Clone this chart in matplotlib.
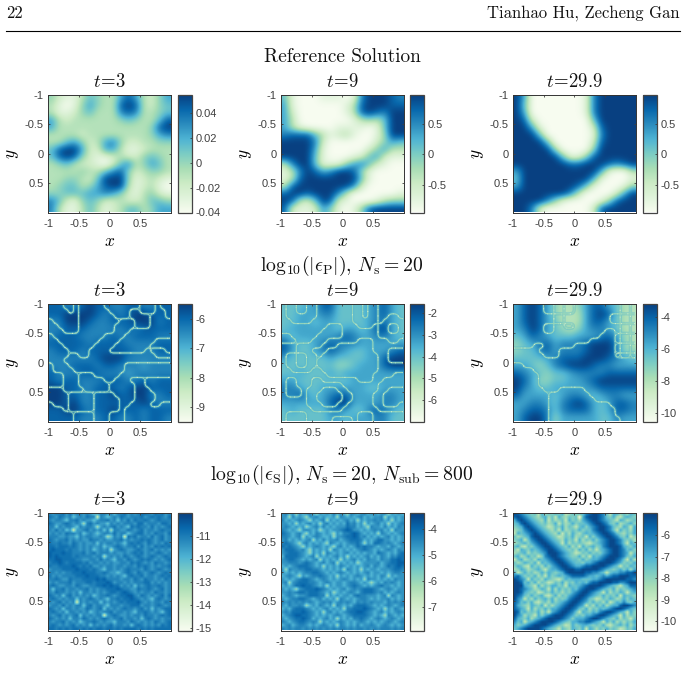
import numpy as np
import matplotlib
matplotlib.use('Agg')
import matplotlib.pyplot as plt

plt.rcParams['mathtext.fontset'] = 'cm'
plt.rcParams['font.family'] = ['Liberation Sans', 'DejaVu Sans']

W, H = 686, 673
TICK_COLOUR = '#404040'

###########################################################################
# Fields, one digit per grid cell: 0 = bottom of colour range, 9 = top
###########################################################################
time_labels = [r'$t\!=\!3$', r'$t\!=\!9$', r'$t\!=\!29.9$']
axis_ticks = [-1, -0.5, 0, 0.5]
axis_tick_labels = ['-1', '-0.5', '0', '0.5']

# solution u(x, y)
sol_t3 = ["4211354336863246", "3101464338983245", "3112453337873345", "6323333334543358",
          "6333333333333489", "3333233333333467", "3356423674223344", "5899622663112333",
          "5898421123224543", "3453221025734653", "3333433578423443", "3344325999412321",
          "3455346899312310", "4455566764213421", "7521454223223554", "7311353123553466"]
sol_t9 = ["5100011101799987", "6100000013899988", "6200000013898799", "6300000001343599",
          "6310000111101599", "7888531231001499", "9999720000002465", "9999610000024633",
          "9999510001256211", "3799511146752100", "1379867998410000", "1389999999510000",
          "3899999997200000", "8998999730000001", "9832598210001344", "8211264101489999"]
sol_t29 = ["9600000001799999", "9500000001799999", "9600000001799999", "9820000000599999",
           "9961000000289999", "9995000000179999", "9999500000289999", "9999940000499999",
           "9999995114899999", "9999999889998789", "6999999999961003", "5999999999610001",
           "6999999985100014", "9999999730000269", "9999741000014899", "9972000000289999"]

# pointwise error, log10 magnitude away from the sign changes
pts_t3 = ["8877898877887788", "8899998787899888", "7799987788899978", "7788877777878888",
          "7888777787788877", "8888878888777788", "7888788888877788", "7777778999777777",
          "7778887887776777", "8777888777677777", "8788777888778788", "9988778887899888",
          "9988778898899778", "9989778888889877", "8899878898887888", "8888777887787887"]
pts_t9 = ["5556688555567865", "5566677555567865", "5566566555567765", "5666666566568965",
          "6566666787667765", "8655678777666666", "8655678765566678", "6555556555566899",
          "5555555445666899", "5565556566666666", "6655555556666666", "7765566666655666",
          "7786567886666776", "6666668996666776", "5655557765578765", "5555556656667755"]
pts_t29 = ["6898643346886533", "6898643336898533", "6898653336886533", "6798654346776533",
           "5687655566678643", "4567867778999743", "4557867778999744", "5555678889998765",
           "6654578999877666", "8765455677778888", "9864455667899999", "9765566666788888",
           "8666656776567766", "6677657898656887", "6788757888656887", "6899746666655766"]

# regions of equal error sign; the borders between them are the zero crossings
sign_t3 = ["111221000001111111000122", "111121000000111122000112", "111111000000011122221112",
           "011111000000003332221111", "001111000000033332221111", "000111000000033311111111",
           "200000000003333111111111", "220000000033331111111333", "222000000333311111113333",
           "222200003333111111130003", "222233003333333333333000", "222333333333333333333333",
           "122233333333333000000000", "122223333333333000000000", "111222111333330000000000",
           "111222111113300022211111", "111222111111000002211111", "333222211111000002221111",
           "333300000222200002222111", "333300000222220002222111", "133300000222220022221122",
           "111300000222220222222222", "111113333222000222222222", "111113333222000222222222"]
sign_t9 = ["011001100000001101100000", "011001100000001101100000", "011111100000001101100110",
           "001111000000001111101111", "000000000111000111011001", "000000001111000000011001",
           "220000011111000000011111", "222000111000000222000110", "000111110002222222000000",
           "000111000222222222000333", "011001102222222222200333", "011001122222222222200333",
           "011001122222222222200000", "001111002222222222200000", "000000000222222222000011",
           "033000110000000222001111", "033000111111000000011111", "033301110001100000011000",
           "033301100000110000110000", "000001100000110000110000", "000001110001100000110001",
           "000000111111000000011111", "011110000000000111000000", "011110000011110111000000"]
sign_t29 = ["000000330033000000000330", "000000330033000000000330", "000000003300000000033003",
            "000000003300000000033003", "000000330033000000000330", "000000330000000000110330",
            "000000000000000001113003", "000000000000000111113003", "000011000000111111110330",
            "111110000111111111110330", "111111000111111111113003", "111111111111111111111111",
            "221111111111111111111111", "222211111111111111111111", "222221111111111111111111",
            "222221111111111111111111", "222221111111111111111111", "222222111333331111111111",
            "222222233333333111111111", "222222233333333311111111", "222222233333333333311111",
            "222222233333333333331111", "222222233333333333331111", "222222233333333333333111"]

# spectral error, fine speckle with the slower structure under it
sub_t3 = ["767786 867767 656776 757786 767887 687867", "876876 756768 773765 676876 777867 878768",
          "767765 778676 656778 675768 687787 678777", "876678 767647 867665 767677 768867 776887",
          "775767 765767 764676 786765 878776 867678", "768675 636678 676757 477668 767867 767877",
          "676768 776756 765677 686775 678867 687768", "777667 665767 766764 576738 786776 867867",
          "876778 676766 877676 677867 677878 767867", "877877 687676 675767 767657 878768 767687",
          "887888 787676 766756 678767 786867 687878", "898887 877676 756767 467876 678767 867676",
          "988898 877786 786777 676676 787867 678767", "989888 878777 767746 767687 678767 876787",
          "889988 887766 776867 657768 767878 767678", "788987 888878 677676 766776 878767 687767",
          "877888 898787 866767 767767 768787 676778", "677788 889888 787657 767678 777687 678767",
          "776767 788898 887787 665678 768767 876787", "867677 778889 888776 767657 877867 767878",
          "778766 877788 889897 777677 687687 767687", "676777 867778 878889 867767 677788 676767",
          "787667 768766 778898 988676 757678 778767", "757786 776778 676778 889877 668778 767867",
          "768776 767577 676767 887898 767677 687767", "876757 867676 756778 767889 976876 767868",
          "787676 775767 876765 778788 987676 578767", "767867 673767 677576 767878 889767 677687",
          "677686 767757 867765 777677 888677 678767", "876757 767668 767857 676787 767867 576788",
          "787675 776767 567677 867767 657787 676578", "767867 678576 767736 787667 677687 767878",
          "876767 577687 676787 677867 767578 767677", "767786 767567 787676 657776 876767 687678",
          "787676 786767 576767 867767 578767 676878", "887878 788787 878878 878788 887878 788888"]
sub_t9 = ["675646 567546 565756 547656 756656 746565", "664756 546675 655647 656567 565667 465656",
          "756567 654656 746565 675646 566767 564656", "665646 567564 675656 586756 465675 646567",
          "676565 645675 756566 687756 547665 756576", "765654 676564 565667 898665 656767 564766",
          "876567 546576 565465 778986 565647 656567", "776567 465676 556466 788986 756565 675656",
          "675656 567465 756675 678887 565688 665656", "787654 675656 547656 567786 465887 676567",
          "878765 465676 565467 565687 877656 657656", "688876 754656 564765 656567 876565 676576",
          "678887 654656 476565 675656 566587 656578", "588887 656746 565675 646565 675657 657688",
          "678876 565674 656564 656756 576657 668898", "667776 787656 756746 565645 666675 678899",
          "565678 887656 465657 656565 675765 687898", "647667 788776 565656 476564 656656 667887",
          "656565 677887 656567 656565 675665 656776", "567654 656778 765646 565676 565657 646566",
          "656567 887656 765656 765656 476656 565766", "674678 887765 676566 567765 654565 767656",
          "565688 988765 646566 567876 565678 665656", "656546 788898 765656 756767 888765 676566",
          "667678 878887 656456 567657 888767 565676", "567656 678887 746565 665787 766656 747656",
          "656778 876567 565647 656567 765656 675656", "767676 767656 767567 676576 767666 576767",
          "657667 645657 656476 565788 876565 676567", "565788 876565 675656 477888 987656 465765",
          "676888 987656 467565 678899 876567 565676", "567899 887656 565676 567888 876565 476565",
          "656788 987565 675646 565778 765676 567656", "765678 876764 656567 656567 656565 676567",
          "567567 765656 765647 656575 667656 765656", "767677 676767 676767 767677 676767 776767"]
sub_t29 = ["987654 526354 646235 465789 987526 645365", "898765 435635 264354 516899 987546 325654",
           "689876 543625 345264 536789 987654 265345", "568987 654534 625346 455678 998754 634564",
           "456898 765423 546354 256467 899875 436526", "345789 876543 526345 464557 899875 264536",
           "265678 987654 362536 435656 789987 543546", "534568 998765 423546 345264 678998 754624",
           "456257 899876 543645 263546 467899 875453", "345646 789987 652635 454324 567899 875265",
           "563254 678998 765463 526456 457899 986546", "426546 567899 876545 364635 256789 987564",
           "345635 456799 987654 235464 546789 987625", "563464 524789 987654 463526 567899 987546",
           "256345 365678 998765 546456 678999 875263", "534654 626567 899876 554667 899998 764546",
           "465326 453646 789987 667889 999876 525465", "346534 564256 678999 889999 987654 564636",
           "624645 346465 456899 999887 765256 677889", "786454 635264 565678 888766 567678 899988",
           "987626 453654 324656 665556 678999 999887", "998564 635423 546354 656578 899998 877899",
           "999654 263546 645265 567899 998765 425688", "998765 346526 364546 578999 876546 354567",
           "998654 523546 453546 789987 652635 465256", "987546 456324 635467 899876 546454 626554",
           "976253 645646 354578 998754 235465 346465", "875646 324536 456789 987646 453624 657546",
           "865436 546253 567899 876253 646356 689987", "876526 354646 678998 754635 465678 998765",
           "985645 463526 789987 526546 578998 765264", "976354 264678 999876 454667 899876 526354",
           "865463 567899 998764 666789 987654 635425", "756256 789999 876546 677887 652646 353546",
           "645678 999987 654236 456654 546324 564635", "567899 998765 425436 546265 354645 423546"]

fields = [[sol_t3, sol_t9, sol_t29], [pts_t3, pts_t9, pts_t29], [sub_t3, sub_t9, sub_t29]]
signs = [sign_t3, sign_t9, sign_t29]

# share of the colour range for each digit in the bottom row, where the grain is strong
grain_levels = [[0.0, 0.08, 0.16, 0.26, 0.4, 0.56, 0.7, 0.78, 0.84, 0.9],
                [0.0, 0.08, 0.16, 0.26, 0.42, 0.62, 0.72, 0.78, 0.84, 0.9],
                [0.0, 0.08, 0.3, 0.38, 0.47, 0.55, 0.64, 0.76, 0.88, 0.97]]

# colour limits per panel, with the ticks on each colourbar
limits = [[(-0.04, 0.0545), (-0.96, 0.98), (-0.96, 0.98)],
          [(-9.5, -5.49), (-6.98, -1.58), (-10.5, -3.2)],
          [(-15.12, -10.0), (-7.93, -3.37), (-10.42, -4.97)]]
cbar_ticks = [[[-0.04, -0.02, 0, 0.02, 0.04], [-0.5, 0, 0.5], [-0.5, 0, 0.5]],
              [[-9, -8, -7, -6], [-6, -5, -4, -3, -2], [-10, -8, -6, -4]],
              [[-15, -14, -13, -12, -11], [-7, -6, -5, -4], [-10, -9, -8, -7, -6]]]
cbar_labels = [[['-0.04', '-0.02', '0', '0.02', '0.04'], ['-0.5', '0', '0.5'], ['-0.5', '0', '0.5']],
               [['-9', '-8', '-7', '-6'], ['-6', '-5', '-4', '-3', '-2'], ['-10', '-8', '-6', '-4']],
               [['-15', '-14', '-13', '-12', '-11'], ['-7', '-6', '-5', '-4'], ['-10', '-9', '-8', '-7', '-6']]]

row_titles = ['Reference Solution',
              r'$\mathrm{log}_{10}(|\epsilon_{\mathrm{P}}|),\,N_{\mathrm{s}}=20$',
              r'$\mathrm{log}_{10}(|\epsilon_{\mathrm{S}}|),\,N_{\mathrm{s}}=20,\,N_{\mathrm{sub}}=800$']


def decode(rows):
    return np.array([[int(c) for c in row.replace(' ', '')] for row in rows], dtype=float)


def px_axes(fig, left, top, right, bottom):
    return fig.add_axes([left / W, 1 - bottom / H, (right - left) / W, (bottom - top) / H])


def rounded(mask, k=4):
    # blow a region mask up and soften it so that its outline comes out curved
    fine = np.kron(mask, np.ones((k, k)))
    kernel = np.convolve(np.ones(k), np.ones(k))
    kernel = kernel / kernel.sum()
    fine = np.pad(fine, len(kernel), mode='edge')
    for axis in (0, 1):
        fine = np.apply_along_axis(lambda v: np.convolve(v, kernel, mode='same'), axis, fine)
    return fine[len(kernel):-len(kernel), len(kernel):-len(kernel)]


def draw_crossings(ax, regions, cmap):
    for label in np.unique(regions):
        soft = rounded((regions == label).astype(float))
        n = soft.shape[0]
        centres = -1 + (np.arange(n) + 0.5) * 2 / n
        ax.contour(centres, centres, soft, levels=[0.5], colors=[cmap(0.6)], linewidths=2.4, alpha=0.22)
        ax.contour(centres, centres, soft, levels=[0.5], colors=[cmap(0.42)], linewidths=0.7, alpha=0.85)
        ax.contour(centres, centres, soft, levels=[0.5], colors=[cmap(0.2)], linewidths=0.8,
                   linestyles=[(0, (0.8, 9))])


def main():
    fig = plt.figure(figsize=(W / 100, H / 100), dpi=100)
    cmap = plt.get_cmap('GnBu')

    # running head of the page
    head = dict(family='cmr10', fontsize=12, color='#111111', va='center')
    fig.text(6 / W, 1 - 13 / H, '22', ha='left', **head)
    fig.text(680 / W, 1 - 13 / H, 'Tianhao Hu, Zecheng Gan', ha='right', **head)
    fig.add_artist(plt.Line2D([6 / W, 680 / W], [1 - 30.5 / H] * 2, color='k', lw=0.8))

    col_left = [48, 281, 513]
    col_bar = [178, 410, 643]
    row_top = [95, 304, 513]
    head_y = [57, 266, 475]

    for i in range(3):
        if i == 0:
            fig.text(342 / W, 1 - head_y[i] / H, row_titles[i], family='cmr10', fontsize=13.9,
                     ha='center', va='center', color='#111111')
        else:
            fig.text(342 / W, 1 - head_y[i] / H, row_titles[i], fontsize=14.2,
                     ha='center', va='center', color='#111111')
        for j in range(3):
            top, left = row_top[i], col_left[j]
            ax = px_axes(fig, left, top, left + 122.5, top + 117.5)
            vmin, vmax = limits[i][j]
            digits = decode(fields[i][j])
            if i == 2:
                share = np.array(grain_levels[j])[digits.astype(int)]
            else:
                share = digits / 9
            grid = vmin + share * (vmax - vmin)
            im = ax.imshow(grid, cmap=cmap, vmin=vmin, vmax=vmax, extent=[-1, 1, 1, -1], aspect='auto',
                           interpolation='bilinear' if i == 2 else 'bicubic')

            # light lines where the pointwise error changes sign
            if i == 1:
                draw_crossings(ax, decode(signs[j]), cmap)
            ax.set_xlim(-1, 1)
            ax.set_ylim(1, -1)

            ax.set_xticks(axis_ticks)
            ax.set_xticklabels(axis_tick_labels)
            ax.set_yticks(axis_ticks)
            ax.set_yticklabels(axis_tick_labels)
            ax.tick_params(direction='in', length=1.5, width=0.6, top=True, right=True, labelsize=8,
                           colors=TICK_COLOUR)
            ax.tick_params(axis='x', pad=5)
            ax.tick_params(axis='y', pad=3)
            for spine in ax.spines.values():
                spine.set_linewidth(0.7)
                spine.set_color('#333333')
            ax.set_title(time_labels[j], fontsize=13.5, pad=6, color='#111111')
            ax.set_xlabel(r'$x$', fontsize=12.5, labelpad=3.5)
            ax.set_ylabel(r'$y$', fontsize=12.5, labelpad=2.5)

            cax = px_axes(fig, col_bar[j], top, col_bar[j] + 13.5, top + 117.5)
            cb = fig.colorbar(im, cax=cax)
            cb.set_ticks(cbar_ticks[i][j])
            cb.set_ticklabels(cbar_labels[i][j])
            cb.ax.tick_params(direction='in', length=1.5, width=0.6, labelsize=8, colors=TICK_COLOUR, pad=3)
            cb.outline.set_linewidth(0.9)
            cb.outline.set_edgecolor('#444444')

    fig.savefig('out.png', dpi=100)


if __name__ == "__main__":
    main()
